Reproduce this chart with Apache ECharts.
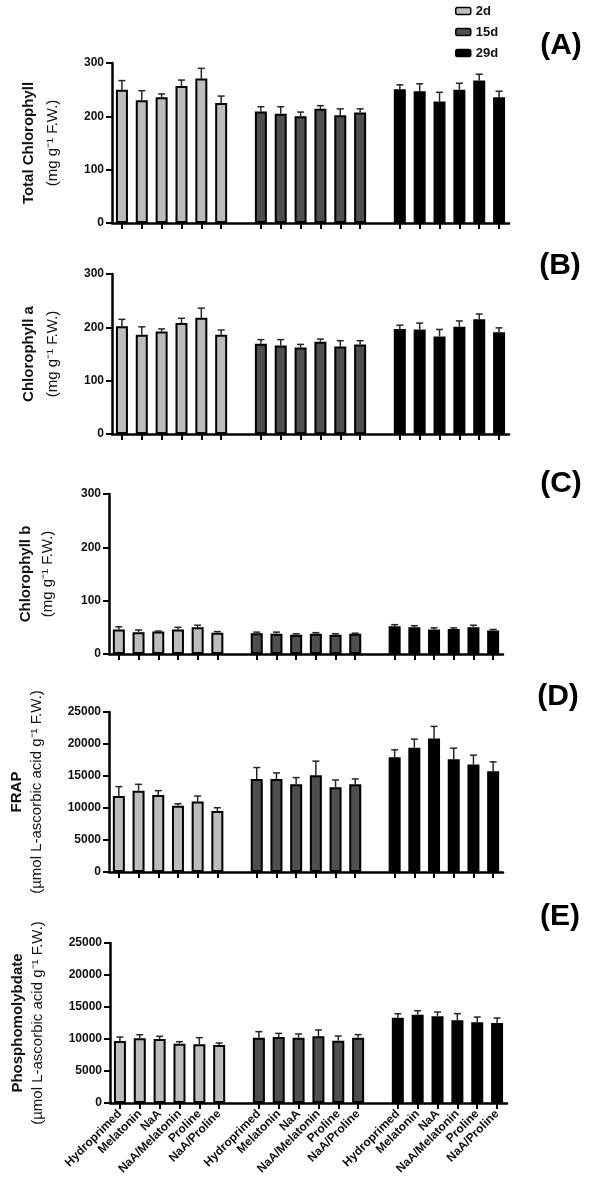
<!DOCTYPE html>
<html>
<head>
<meta charset="utf-8">
<script src="https://cdn.jsdelivr.net/npm/echarts@6.0.0/dist/echarts.min.js"></script>
<style>
  html, body { margin: 0; padding: 0; background: #fff; }
  #chart { width: 589px; height: 1186px; }
</style>
</head>
<body>
<div id="chart"></div>
<script>
// groups (legend) and treatments (x categories)
const groups = ['2d', '15d', '29d']
const treatments = ['Hydroprimed', 'Melatonin', 'NaA', 'NaA/Melatonin', 'Proline', 'NaA/Proline']
// empty category between the groups
const categories = [...treatments, '', ...treatments, '', ...treatments]

// values, 6 per group in order 2d, 15d, 29d
const totalMean = [250, 230, 236, 257, 271, 225, 209, 205, 200, 214, 202, 207, 251, 247, 228, 250, 267, 236]
const totalSd = [17, 18, 6, 11, 19, 13, 9, 13, 8, 6, 12, 7, 8, 14, 17, 12, 12, 11]

const chlAMean = [202, 186, 192, 208, 218, 186, 169, 166, 162, 173, 164, 168, 197, 196, 183, 201, 215, 191]
const chlASd = [13, 15, 5, 9, 18, 9, 8, 11, 6, 5, 11, 7, 7, 12, 13, 11, 10, 8]

const chlBMean = [46, 41, 42, 46, 50, 40, 39, 38, 36, 38, 36, 38, 52, 50, 46, 47, 50, 44]
const chlBSd = [5, 4, 1, 4, 4, 2, 2, 3, 2, 2, 2, 1, 3, 3, 3, 2, 4, 2]

const frapMean = [11870, 12710, 12030, 10350, 11030, 9520, 14540, 14540, 13700, 15120, 13230, 13700, 17940, 19400, 20870, 17620, 16790, 15740]
const frapSd = [1470, 990, 680, 310, 840, 520, 1780, 940, 1050, 2200, 1150, 840, 1150, 1360, 1880, 1730, 1470, 1470]

const phosMean = [9690, 10100, 10000, 9270, 9170, 9060, 10210, 10310, 10210, 10420, 9740, 10210, 13330, 13800, 13540, 12920, 12600, 12500]
const phosSd = [620, 570, 420, 310, 1040, 310, 940, 570, 570, 990, 730, 470, 620, 620, 680, 1040, 830, 780]

const FONT = '"Liberation Sans", Arial, Helvetica, sans-serif'
const barColors = ['#bdbdbd', '#4f4f4f', '#000000']

// layout of the five panels
const panels = [
  { letter: '(A)', lx: 561, ly: 46, top: 63, left: 112, width: 397, max: 300, step: 100, name: 'Total Chlorophyll', unit: '(mg g⁻¹ F.W.)', mean: totalMean, sd: totalSd, gap: 47, lh: 24 },
  { letter: '(B)', lx: 560, ly: 266, top: 274, left: 112, width: 397, max: 300, step: 100, name: 'Chlorophyll a', unit: '(mg g⁻¹ F.W.)', mean: chlAMean, sd: chlASd, gap: 47, lh: 24 },
  { letter: '(C)', lx: 561, ly: 484, top: 494, left: 109, width: 394, max: 300, step: 100, name: 'Chlorophyll b', unit: '(mg g⁻¹ F.W.)', mean: chlBMean, sd: chlBSd, gap: 50, lh: 22 },
  { letter: '(D)', lx: 558, ly: 697, top: 712, left: 109, width: 394, max: 25000, step: 5000, name: 'FRAP', unit: '(µmol L-ascorbic acid g⁻¹ F.W.)', mean: frapMean, sd: frapSd, gap: 62, lh: 20 },
  { letter: '(E)', lx: 560, ly: 917, top: 943, left: 110, width: 397, max: 25000, step: 5000, name: 'Phosphomolybdate', unit: '(µmol L-ascorbic acid g⁻¹ F.W.)', mean: phosMean, sd: phosSd, gap: 62, lh: 20 }
]

// position of value j on the category axis (skip the gap categories)
const catIndex = j => Math.floor(j / 6) * 7 + (j % 6)

// error bar: line up from the mean with a small cap
function renderError (params, api) {
  const x = api.value(0)
  const m = api.value(1)
  const s = api.value(2)
  const base = api.coord([x, m])
  const top = api.coord([x, m + s])
  const style = { stroke: '#262626', lineWidth: 1.5 }
  return {
    type: 'group',
    children: [
      { type: 'line', shape: { x1: base[0], y1: base[1], x2: top[0], y2: top[1] }, style: style },
      { type: 'line', shape: { x1: top[0] - 3.5, y1: top[1], x2: top[0] + 3.5, y2: top[1] }, style: style }
    ]
  }
}

const grid = []
const xAxis = []
const yAxis = []
const series = []
const graphic = []

panels.forEach((p, pi) => {
  const last = pi === panels.length - 1
  grid.push({ left: p.left, top: p.top, width: p.width, height: 160, containLabel: false, outerBoundsMode: 'none' })
  xAxis.push({
    type: 'category',
    gridIndex: pi,
    data: categories,
    boundaryGap: true,
    axisLine: { show: true, lineStyle: { color: '#000', width: 2.5 } },
    axisTick: { show: true, alignWithLabel: true, length: 6, interval: (i, v) => v !== '', lineStyle: { color: '#000', width: 2 } },
    axisLabel: {
      show: last, interval: 0, rotate: 45, margin: 9,
      fontFamily: FONT, fontSize: 12, fontWeight: 'bold', color: '#111'
    },
    splitLine: { show: false }
  })
  yAxis.push({
    type: 'value',
    gridIndex: pi,
    min: 0,
    max: p.max,
    interval: p.step,
    name: '{b|' + p.name + '}\n{n|' + p.unit + '}',
    nameLocation: 'middle',
    nameRotate: 90,
    nameGap: p.gap,
    nameTextStyle: {
      rich: {
        b: { fontFamily: FONT, fontSize: 15, fontWeight: 'bold', color: '#111', lineHeight: p.lh },
        n: { fontFamily: FONT, fontSize: 15, color: '#111', lineHeight: p.lh }
      }
    },
    axisLine: { show: true, lineStyle: { color: '#000', width: 2.5 } },
    axisTick: { show: true, length: 6, lineStyle: { color: '#000', width: 2 } },
    axisLabel: { margin: 8, formatter: v => String(v), fontFamily: FONT, fontSize: 12, fontWeight: 'bold', color: '#111' },
    splitLine: { show: false }
  })
  groups.forEach((g, gi) => {
    const data = categories.map(() => '-')
    p.mean.forEach((v, j) => {
      if (Math.floor(j / 6) === gi) data[catIndex(j)] = v
    })
    series.push({
      type: 'bar',
      name: g,
      xAxisIndex: pi,
      yAxisIndex: pi,
      data: data,
      barWidth: 12,
      barGap: '-100%',
      itemStyle: { color: barColors[gi], borderColor: '#000', borderWidth: 2 },
      emphasis: { disabled: true },
      z: 2
    })
  })
  series.push({
    type: 'custom',
    name: 'sd',
    xAxisIndex: pi,
    yAxisIndex: pi,
    data: p.mean.map((v, j) => [catIndex(j), v, p.sd[j]]),
    encode: { x: 0, y: 1 },
    renderItem: renderError,
    silent: true,
    z: 3
  })
  graphic.push({
    type: 'text',
    x: p.lx,
    y: p.ly,
    style: {
      text: p.letter,
      font: 'bold 30px ' + FONT,
      fill: '#000',
      align: 'center',
      verticalAlign: 'middle',
      textAlign: 'center',
      textVerticalAlign: 'middle'
    }
  })
})

const chart = echarts.init(document.getElementById('chart'), null, { renderer: 'canvas' })
chart.setOption({
  animation: false,
  backgroundColor: '#fff',
  legend: {
    data: groups,
    orient: 'vertical',
    left: 455,
    top: 4,
    itemWidth: 15,
    itemHeight: 7,
    itemGap: 7,
    padding: 0,
    itemStyle: { borderWidth: 1.5, borderColor: '#000' },
    textStyle: { fontFamily: FONT, fontSize: 13, fontWeight: 'bold', color: '#111', lineHeight: 14 },
    selectedMode: false
  },
  grid: grid,
  xAxis: xAxis,
  yAxis: yAxis,
  series: series,
  graphic: graphic
})
</script>
</body>
</html>
